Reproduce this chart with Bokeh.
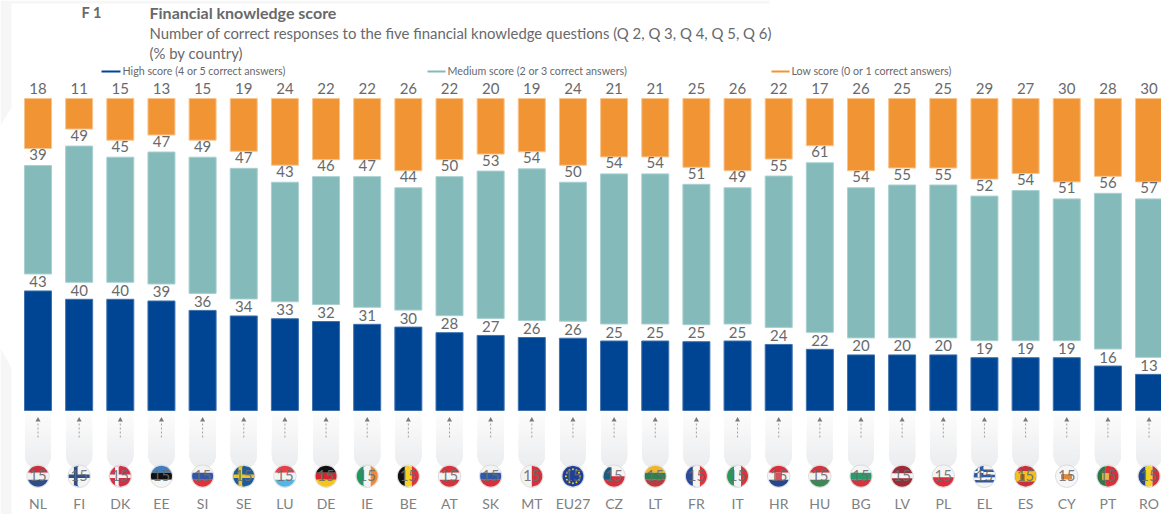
import numpy as np
from bokeh.plotting import figure
from bokeh.models import Range1d, ColumnDataSource
from bokeh.core.properties import value
from bokeh.embed import file_html
from bokeh.resources import INLINE

countries = ["NL","FI","DK","EE","SI","SE","LU","DE","IE","BE","AT","SK","MT","EU27",
             "CZ","LT","FR","IT","HR","HU","BG","LV","PL","EL","ES","CY","PT","RO"]
high   = [43,40,40,39,36,34,33,32,31,30,28,27,26,26,25,25,25,25,24,22,20,20,20,19,19,19,16,13]
medium = [39,49,45,47,49,47,43,46,47,44,50,53,54,50,54,54,51,49,55,61,54,55,55,52,54,51,56,57]
low    = [18,11,15,13,15,19,24,22,22,26,22,20,19,24,21,21,25,26,22,17,26,25,25,29,27,30,28,30]
legend_labels = ["High score (4 or 5 correct answers)", "Medium score (2 or 3 correct answers)",
                 "Low score (0 or 1 correct answers)"]
title_code = "F 1"
title_main = "Financial knowledge score"
title_sub = "Number of correct responses to the five financial knowledge questions (Q 2, Q 3, Q 4, Q 5, Q 6)"
title_unit = "(% by country)"
flag_overlay = "15"

BLUE, TEAL, ORANGE = "#004494", "#84BABA", "#F19534"
TXT = "#68696b"
FONT = "Lato"

W, H = 1161, 514
PX_X = 41.15       # px per category
PX_Y = 2.78        # px per percentage point
X0_IMG = 37.5      # image x of the first category
Y0_IMG = 410.0     # image y of the base of the bars
GAP = 17 / PX_Y    # blank band between stacked segments, in value units

xs = lambda img: (img - X0_IMG) / PX_X
ys = lambda img: (Y0_IMG - img) / PX_Y

p = figure(width=W, height=H, output_backend="svg", toolbar_location=None,
           x_range=Range1d(xs(0), xs(W)), y_range=Range1d(ys(H), ys(0)),
           min_border=0, outline_line_color=None, background_fill_color="white")
p.axis.visible = False
p.grid.visible = False

# faint page decoration showing at the edges of the crop
deco = [[(0, 0), (769, 0), (769, 3), (11, 3), (11, 107), (0, 125)],
        [(0, 347), (11, 368), (11, 514), (0, 514)]]
p.patches([[xs(a) for a, _ in d] for d in deco], [[ys(b) for _, b in d] for d in deco],
          fill_color="#f6f6f6", line_color=None)

idx = np.arange(len(countries))
hi, me, lo = np.array(high, float), np.array(medium, float), np.array(low, float)
# the published figures are rounded: each stack is drawn as shares of its own total
tot = (hi + me + lo) / 100.0
hn, mn, ln = hi / tot, me / tot, lo / tot
src = ColumnDataSource(dict(
    x=idx, c=countries,
    hi0=0 * hn, hi1=hn,
    me0=hn + GAP, me1=hn + GAP + mn,
    lo0=hn + mn + 2 * GAP, lo1=hn + mn + ln + 2 * GAP,
    t_hi=[str(v) for v in high], t_me=[str(v) for v in medium], t_lo=[str(v) for v in low],
    base=[ys(503)] * len(countries),
    ov=[flag_overlay] * len(countries),
    fy=[ys(475)] * len(countries),
))
BW = 27 / PX_X
for b, t, col, edge in [("hi0", "hi1", BLUE, "#3f72ad"), ("me0", "me1", TEAL, "#a8d0d0"), ("lo0", "lo1", ORANGE, "#f8c48e")]:
    p.vbar(x="x", bottom=b, top=t, width=BW, fill_color=col, line_color=edge, line_width=1, source=src)

for t, txt, off in [("hi1", "t_hi", -9), ("me1", "t_me", -11), ("lo1", "t_lo", -10)]:
    p.text(x="x", y=t, text=txt, source=src, text_align="center", text_baseline="middle",
           text_font=value(FONT), text_font_size="15px", text_color=TXT, y_offset=off)

# rounded gradient pills under each bar
PILL_TOP, PILL_BOT, PILL_R, PILL_HW = 412.0, 468.0, 13.0, 13.0
def pill_poly(i, ytop):
    yy = np.linspace(ytop, PILL_BOT, 24)
    hw = np.where(yy < PILL_BOT - PILL_R, PILL_HW,
                  np.sqrt(np.clip(PILL_R**2 - (yy - (PILL_BOT - PILL_R))**2, 0, None)))
    px = np.concatenate([-hw, hw[::-1]]) / PX_X + i
    py = ys(np.concatenate([yy, yy[::-1]]))
    return px.tolist(), py.tolist()
pxs, pys, pcs = [], [], []
steps = 20
for s in range(steps):
    f = s / (steps - 1)
    col = "#%02x%02x%02x" % (round(252 - 17 * f), round(252 - 16 * f), round(252 - 14 * f))
    for i in idx:
        a, b = pill_poly(i, PILL_TOP + (PILL_BOT - PILL_TOP) * s / steps)
        pxs.append(a); pys.append(b); pcs.append(col)
p.patches(pxs, pys, fill_color=pcs, line_color=None)

# dotted arrows
p.segment(idx, [ys(423)] * len(idx), idx, [ys(437)] * len(idx), line_color="#a0a1a3", line_width=1, line_dash="2 2")
p.scatter(idx, [ys(419.5)] * len(idx), marker="triangle", size=5, fill_color="#77787a", line_color=None)

# flags
R = 10.5
FY = 475.7
H3 = lambda a, b, c: [(a, -1, 1, -1, -1/3), (b, -1, 1, -1/3, 1/3), (c, -1, 1, 1/3, 1)]
V3 = lambda a, b, c: [(a, -1, -1/3, -1, 1), (b, -1/3, 1/3, -1, 1), (c, 1/3, 1, -1, 1)]
CROSS = lambda bg, fg: [(bg, -1, 1, -1, 1), (fg, -0.5, -0.15, -1, 1), (fg, -1, 1, -0.17, 0.17)]
flag_specs = {
    "NL": H3("#c8313e", "#f2f2f2", "#2c4f8c"), "FI": CROSS("#f4f4f4", "#2d4f85"),
    "DK": CROSS("#d32f45", "#f4f4f4"), "EE": H3("#3f7fbf", "#111111", "#f4f4f4"),
    "SI": H3("#f2f2f2", "#3556a8", "#e0323a"), "SE": CROSS("#1c5c9c", "#f3c325"),
    "LU": H3("#e8404a", "#f4f4f4", "#55b5e5"), "DE": H3("#111111", "#d5272e", "#f5c518"),
    "IE": V3("#1f9a5c", "#f4f4f4", "#f08a3a"), "BE": V3("#111111", "#f5d320", "#e2323c"),
    "AT": H3("#d6333a", "#f4f4f4", "#d6333a"), "SK": H3("#f2f2f2", "#2f58a8", "#d8303a"),
    "MT": [("#f2f2f2", -1, 0, -1, 1), ("#d6303a", 0, 1, -1, 1)],
    "EU27": [("#1f409a", -1, 1, -1, 1)],
    "CZ": [("#f4f4f4", -1, 1, -1, 0), ("#d6303a", -1, 1, 0, 1), ("#1d5a80", -1, -0.25, -0.85, 0.3)],
    "LT": H3("#f0b52a", "#2f7f4f", "#bf3a3a"), "FR": V3("#2a4a9c", "#f4f4f4", "#e2323c"),
    "IT": V3("#2b9a55", "#f4f4f4", "#df333a"), "HR": [("#d9303a", -1, 1, -1, -1/3), ("#f4f4f4", -1, 1, -1/3, 1/3), ("#25478f", -1, 1, 1/3, 1), ("#d9505a", -0.3, 0.3, -0.35, 0.4)],
    "HU": H3("#d2343d", "#f4f4f4", "#3a8a55"), "BG": H3("#f4f4f4", "#2b9a6a", "#d6333a"),
    "LV": [("#9e2a35", -1, 1, -1, -0.25), ("#f4f4f4", -1, 1, -0.25, 0.2), ("#9e2a35", -1, 1, 0.2, 1)],
    "PL": [("#f4f4f4", -1, 1, -1, 0.1), ("#dc2f3c", -1, 1, 0.1, 1)],
    "EL": [("#f4f4f4", -1, 1, -1, 1), ("#2a5aa8", -1, 1, -0.65, -0.4), ("#2a5aa8", -1, 1, -0.15, 0.1),
           ("#2a5aa8", -1, 1, 0.35, 0.6), ("#2a5aa8", -1, -0.1, -1, 0.1), ("#f4f4f4", -0.65, -0.45, -1, 0.1), ("#f4f4f4", -1, -0.1, -0.5, -0.3)],
    "ES": [("#c8303a", -1, 1, -1, 1), ("#f2c020", -1, 1, -0.5, 0.5), ("#a05a20", -0.5, -0.1, -0.2, 0.35)],
    "CY": [("#f6f6f6", -1, 1, -1, 1), ("#dd8a3a", -0.55, 0.5, -0.2, 0.3)],
    "PT": [("#2b7a45", -1, -0.2, -1, 1), ("#d9303a", -0.2, 1, -1, 1), ("#e6b84a", -0.55, 0.1, -0.3, 0.35)],
    "RO": V3("#25478f", "#f5d320", "#d6303a"),
}
def rect_disc(i, x0, x1, y0, y1):
    yy = np.linspace(y0, y1, 16)
    edge = np.sqrt(np.clip(1 - yy**2, 0, None))
    left = np.maximum(x0, -edge)
    right = np.minimum(x1, edge)
    right = np.maximum(left, right)
    px = np.concatenate([left, right[::-1]]) * R / PX_X + i
    py = ys(FY + np.concatenate([yy, yy[::-1]]) * R)
    return px.tolist(), py.tolist()
p.scatter(idx, [ys(FY)] * len(idx), marker="circle", size=2 * R + 1.5, fill_color="#f4f4f4", line_color="#dcdcdc", line_width=1)
fx, fy, fc = [], [], []
for i, c in enumerate(countries):
    for col, x0, x1, y0, y1 in flag_specs[c]:
        a, b = rect_disc(i, x0, x1, y0, y1)
        fx.append(a); fy.append(b); fc.append(col)
p.patches(fx, fy, fill_color=fc, line_color=None)
# EU stars
eu = countries.index("EU27")
ang = np.linspace(0, 2 * np.pi, 12, endpoint=False)
p.scatter(eu + 7 * np.cos(ang) / PX_X, ys(FY + 7 * np.sin(ang)), marker="circle", size=2, fill_color="#f5d320", line_color=None)

p.text(x="x", y="fy", text="ov", source=src, text_align="center", text_baseline="middle",
       text_font=value(FONT), text_font_size="15px", text_color="#6b6c6e", text_alpha=0.9)

p.text(x="x", y="base", text="c", source=src, text_align="center", text_baseline="middle",
       text_font=value(FONT), text_font_size="14px", text_color="#808183")

def put(img_x, img_y, s, size, bold=False, color=TXT):
    p.text([xs(img_x)], [ys(img_y)], text=[s], text_baseline="middle", text_align="left",
           text_font=value(FONT), text_font_size=size, text_color=color,
           text_font_style="bold" if bold else "normal")
put(81, 12, title_code, "14.5px", True)
put(149, 12, title_main, "16px", True)
put(149, 32, title_sub, "14.9px")
put(149, 52, title_unit, "14.9px")

for (x0, x1, tx), col, lab in zip([(101, 120, 122), (427, 445, 447), (771, 789, 791)], [BLUE, "#84BABA", ORANGE], legend_labels):
    p.segment([xs(x0)], [ys(71)], [xs(x1)], [ys(71)], line_color=col, line_width=2)
    put(tx, 70, lab, "10.7px")

open("out.html", "w").write(file_html(p, INLINE))
